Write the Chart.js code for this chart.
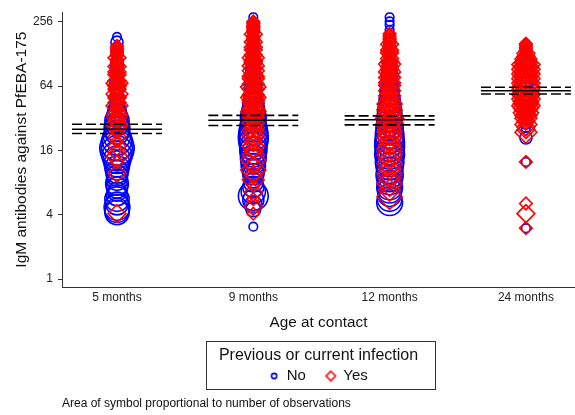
<!DOCTYPE html>
<html>
<head>
<meta charset="utf-8">
<script src="https://cdn.jsdelivr.net/npm/chart.js@4.4.1/dist/chart.umd.min.js"></script>
<style>
  html, body { margin: 0; padding: 0; background: #fff; }
  #wrap { width: 575px; height: 415px; position: relative; }
</style>
</head>
<body>
<div id="wrap"><canvas id="chart"></canvas></div>
<script>
const ageLabels = ['5 months', '9 months', '12 months', '24 months'];
const yTicks = [1, 4, 16, 64, 256];

// IgM titres (one list per age) and how many children had each titre
const noTitres = [
  [185, 165, 150, 135, 120, 108, 98, 88, 80, 72, 66, 60, 55, 50, 46, 42, 39, 36, 33, 30.5, 28, 25.7, 23.7, 21.7, 20, 18.3, 16.8, 15.5, 14.2, 13.1, 12, 11, 10.1, 9.3, 8.5, 7.8, 7.2, 6.6, 6.1, 5.6, 5.1, 4.7, 4.4, 4.2],
  [283, 255, 230, 210, 190, 172, 158, 145, 133, 122, 112, 103, 95, 88, 81, 75, 69, 64, 59, 55, 51, 47, 44, 41, 38, 35, 32.5, 30, 28, 26, 24, 22, 20.5, 19, 17.5, 16, 14.8, 13.6, 12.5, 11.5, 10.5, 9.6, 8.8, 8, 7.3, 6.6, 6, 5.5, 5, 4.5, 3.1],
  [283, 258, 240, 215, 195, 178, 162, 148, 136, 124, 113, 104, 95, 87, 80, 73, 67, 62, 57, 52, 48, 44, 40.5, 37, 34, 31.5, 29, 26.5, 24.5, 22.5, 20.5, 19, 17.5, 16, 14.7, 13.5, 12.4, 11.4, 10.4, 9.5, 8.7, 8, 7.3, 6.7, 6.1, 5.6, 5.2],
  [160, 120, 100, 85, 72, 62, 54, 47, 41, 36, 32, 29, 26, 21, 12.5, 3.0]
];
const noCounts = [
  [1, 2, 1, 2, 1, 2, 2, 2, 2, 2, 2, 3, 2, 3, 3, 3, 4, 5, 6, 8, 7, 9, 8, 10, 12, 14, 16, 14, 12, 10, 9, 8, 7, 6, 6, 7, 6, 5, 6, 8, 7, 9, 8, 8],
  [1, 1, 1, 1, 1, 2, 1, 2, 2, 2, 3, 2, 3, 3, 3, 3, 4, 3, 4, 4, 5, 5, 6, 6, 7, 8, 9, 8, 9, 10, 11, 12, 12, 11, 10, 10, 9, 9, 8, 8, 7, 6, 5, 5, 6, 8, 12, 6, 4, 3, 1],
  [1, 1, 1, 1, 1, 1, 2, 1, 2, 2, 2, 3, 3, 3, 4, 3, 4, 4, 5, 5, 6, 6, 7, 8, 8, 9, 9, 10, 10, 11, 11, 12, 12, 11, 12, 10, 11, 10, 9, 10, 9, 8, 9, 8, 7, 8, 9],
  [1, 1, 2, 2, 3, 3, 3, 2, 2, 2, 2, 2, 1, 2, 1, 1]
];
const yesTitres = [
  [152, 140, 128, 118, 110, 104, 98, 92, 87, 82, 77, 72, 68, 64, 60, 57, 54, 51, 48, 45, 42, 39, 36.5, 34, 31.5, 29.5, 27.5, 25.5, 23.5, 21.5, 19.5, 17.5, 15.5, 14, 12.5, 9.8, 4.1,
   146, 134, 123, 114, 107, 101, 95, 89.5, 84.5, 79.5, 74.5, 70, 66, 62, 58.5, 55.5, 52.5, 49.5, 46.5, 43.5, 40.5, 38, 35, 32.5],
  [258, 245, 232, 220, 208, 196, 185, 175, 166, 157, 148, 140, 132, 125, 118, 111, 105, 99, 94, 89, 84, 79, 75, 71, 67, 63, 60, 56, 53, 50, 47, 44.5, 42, 39.5, 37, 35, 33, 31, 29, 27, 25, 23.5, 22, 20.5, 19, 17.5, 16, 14.5, 13, 11.5, 10.5, 9.5, 8.5, 7.5, 6.5, 5.6, 4.8, 4.1,
   251, 238, 226, 214, 202, 190, 180, 170, 161, 152, 144, 136, 128, 121, 114, 108, 102, 96.5, 91.5, 86.5, 81.5, 77, 73, 69, 65, 61.5, 58, 54.5, 51.5, 48.5, 45.7, 43.2, 40.7, 38.2, 36, 34, 32, 30, 28],
  [198, 180, 168, 158, 148, 139, 131, 123, 116, 109, 103, 97, 92, 87, 82, 77, 73, 69, 65, 61, 58, 55, 52, 49, 46, 43.5, 41, 38.5, 36, 34, 32, 30, 28, 26, 24, 22.5, 21, 19.5, 18, 16.5, 14.8, 13.4, 12, 10.8, 9.7, 8.7, 7.8, 6.8, 5.9,
   189, 174, 163, 153, 143, 135, 127, 119.5, 112.5, 106, 100, 94.5, 89.5, 84.5, 79.5, 75, 71, 67, 63, 59.5, 56.5, 53.5, 50.5, 47.5, 44.7, 42.2, 39.7, 37.2, 35, 33, 31, 29, 27],
  [160, 148, 138, 130, 122, 115, 108, 102, 97, 92, 87, 83, 79, 75, 71, 68, 65, 62, 59, 56, 53.5, 51, 48.5, 46, 44, 42, 40, 38, 36, 34, 32, 30, 28, 26.5, 25, 23.7, 12.5, 5.1, 4.1, 3.0,
   154, 143, 134, 126, 118.5, 111.5, 105, 99.5, 94.5, 89.5, 85, 81, 77, 73, 69.5, 66.5, 63.5, 60.5, 57.5, 54.7, 52.2, 49.7, 47.2, 45, 43, 41, 39, 37, 35, 33, 31, 29]
];
const yesCounts = [
  [1, 1, 1, 2, 1, 1, 2, 1, 2, 2, 1, 2, 3, 2, 2, 1, 3, 2, 1, 2, 3, 1, 2, 3, 2, 2, 3, 2, 1, 2, 1, 2, 2, 3, 1, 2, 2,
   1, 1, 1, 1, 1, 1, 1, 1, 1, 1, 1, 1, 2, 1, 1, 1, 1, 2, 1, 1, 1, 1, 1, 1],
  [1, 1, 1, 1, 1, 2, 1, 1, 2, 1, 2, 2, 1, 2, 3, 2, 2, 3, 2, 3, 2, 3, 3, 2, 3, 4, 3, 2, 3, 4, 3, 3, 2, 3, 4, 3, 3, 2, 3, 2, 3, 2, 3, 2, 2, 3, 2, 3, 4, 2, 4, 2, 3, 1, 2, 1, 2, 1,
   1, 1, 1, 1, 1, 1, 1, 1, 1, 1, 1, 1, 1, 1, 1, 2, 1, 1, 1, 1, 2, 1, 1, 1, 1, 1, 2, 1, 1, 1, 1, 1, 1, 1, 1, 1, 1, 1, 1],
  [1, 1, 1, 2, 1, 2, 2, 1, 2, 2, 3, 2, 2, 3, 2, 3, 2, 3, 3, 2, 3, 2, 3, 2, 3, 4, 3, 4, 3, 4, 5, 4, 5, 3, 4, 3, 4, 3, 3, 4, 4, 3, 4, 3, 4, 3, 4, 3, 4,
   1, 1, 1, 1, 1, 1, 1, 1, 1, 1, 1, 1, 1, 1, 1, 1, 1, 2, 1, 1, 1, 1, 1, 1, 1, 2, 1, 1, 1, 1, 1, 1, 1],
  [1, 1, 1, 2, 2, 3, 3, 5, 4, 5, 4, 5, 4, 5, 4, 5, 4, 5, 5, 4, 5, 4, 5, 4, 4, 5, 4, 3, 4, 3, 3, 2, 3, 2, 2, 3, 1, 1, 2, 1,
   1, 1, 1, 1, 2, 2, 3, 2, 3, 2, 3, 2, 3, 2, 3, 2, 3, 2, 3, 2, 3, 2, 3, 2, 3, 2, 2, 2, 2, 2, 1, 1]
];

// geometric mean titre per age with its 95% confidence interval
const gmt = [25.3, 30.7, 31.0, 58.0];
const gmtLow = [23.1, 27.4, 27.8, 54.0];
const gmtHigh = [28.2, 34.1, 33.7, 62.4];

const FONT = "'Liberation Sans', Arial, sans-serif";
const BLUE = 'rgb(0, 0, 255)';
const RED = 'rgb(255, 0, 0)';
const CIRCLE_R = 4.3;   // radius of a circle standing for one child
const DIAMOND_R = 6.3;  // half diagonal of a diamond for one child
const HALF_SPAN = 0.33; // half length of the mean / CI bars, in category units

function toPoints(titres, counts) {
  const pts = [];
  titres.forEach((list, i) => {
    list.forEach((v, j) => pts.push({ x: i + 1, y: v, n: counts[i][j] }));
  });
  return pts;
}

function bars(values) {
  const pts = [];
  values.forEach((v, i) => {
    pts.push({ x: i + 1 - HALF_SPAN, y: v }, { x: i + 1 + HALF_SPAN, y: v }, { x: i + 1.5, y: null });
  });
  return pts;
}

function legendIcon(style, color) {
  const c = document.createElement('canvas');
  const s = style === 'circle' ? 8 : 13;
  c.width = s; c.height = s;
  const g = c.getContext('2d');
  g.strokeStyle = color;
  g.lineWidth = 1.6;
  g.beginPath();
  if (style === 'circle') {
    g.arc(s / 2, s / 2, 2.6, 0, Math.PI * 2);
  } else {
    const h = 4.8;
    g.moveTo(s / 2, s / 2 - h); g.lineTo(s / 2 + h, s / 2);
    g.lineTo(s / 2, s / 2 + h); g.lineTo(s / 2 - h, s / 2);
    g.closePath();
  }
  g.stroke();
  return c;
}

// border around the legend block
const legendFrame = {
  id: 'legendFrame',
  afterDraw(chart) {
    const lg = chart.legend;
    const ctx = chart.ctx;
    ctx.save();
    ctx.font = '16px ' + FONT;
    const w = Math.round(ctx.measureText('Previous or current infection').width + 30);
    const cx = (lg.left + lg.right) / 2 + 2;
    ctx.strokeStyle = '#333';
    ctx.lineWidth = 1;
    ctx.strokeRect(Math.round(cx - w / 2) + 0.5, Math.round(lg.top) + 0.5, w, 48);
    ctx.restore();
  }
};

const ctx = document.getElementById('chart').getContext('2d');
new Chart(ctx, {
  type: 'scatter',
  data: {
    datasets: [
      {
        label: 'No',
        data: toPoints(noTitres, noCounts),
        pointStyle: 'circle',
        pointRadius: c => CIRCLE_R * Math.sqrt(c.raw.n),
        pointBorderColor: BLUE,
        pointBackgroundColor: 'rgba(0,0,0,0)',
        pointBorderWidth: 1.6,
        order: 2
      },
      {
        label: 'Yes',
        data: toPoints(yesTitres, yesCounts),
        pointStyle: 'rectRot',
        pointRadius: c => DIAMOND_R * Math.sqrt(c.raw.n),
        pointBorderColor: RED,
        pointBackgroundColor: 'rgba(0,0,0,0)',
        pointBorderWidth: 1.6,
        order: 1
      },
      {
        type: 'line', label: 'GMT', data: bars(gmt),
        borderColor: '#000', borderWidth: 1.6, pointRadius: 0, order: 0
      },
      {
        type: 'line', label: 'lower', data: bars(gmtLow),
        borderColor: '#000', borderWidth: 1.6, borderDash: [10, 4], pointRadius: 0, order: 0
      },
      {
        type: 'line', label: 'upper', data: bars(gmtHigh),
        borderColor: '#000', borderWidth: 1.6, borderDash: [10, 4], pointRadius: 0, order: 0
      }
    ]
  },
  options: {
    responsive: true,
    maintainAspectRatio: false,
    animation: false,
    events: [],
    layout: { autoPadding: false, padding: { top: 8, right: 0, bottom: 4.5, left: 0 } },
    scales: {
      x: {
        type: 'linear',
        min: 0.5965,
        max: 4.36,
        afterBuildTicks: scale => { scale.ticks = ageLabels.map((_, i) => ({ value: i + 1 })); },
        afterFit: scale => { scale.height = 53.7; },
        ticks: {
          padding: 3.5,
          color: '#222',
          font: { family: FONT, size: 12 },
          callback: v => ageLabels[v - 1]
        },
        grid: { display: false, drawTicks: false },
        border: { display: true, color: '#333', width: 1 },
        title: {
          display: true, text: 'Age at contact', color: '#111',
          font: { family: FONT, size: 15.3 }, padding: { top: 0, bottom: 8.5 }
        }
      },
      y: {
        type: 'logarithmic',
        min: 0.844,
        max: 315,
        afterBuildTicks: scale => { scale.ticks = yTicks.map(v => ({ value: v })); },
        afterFit: scale => { scale.width = 62; },
        ticks: {
          padding: 5,
          color: '#222',
          font: { family: FONT, size: 12 },
          callback: v => String(v)
        },
        grid: { drawOnChartArea: false, drawTicks: true, tickLength: 4, color: '#333' },
        border: { display: true, color: '#333', width: 1 },
        title: {
          display: true, text: 'IgM antibodies against PfEBA-175', color: '#111',
          font: { family: FONT, size: 15.5 }, padding: { top: 12.5, bottom: 0 }
        }
      }
    },
    plugins: {
      tooltip: { enabled: false },
      legend: {
        position: 'bottom',
        fullSize: false,
        align: 'center',
        title: {
          display: true, text: 'Previous or current infection', color: '#111',
          font: { family: FONT, size: 16 }, padding: { top: 7.3, bottom: -18.7 }
        },
        labels: {
          usePointStyle: true,
          boxWidth: 10,
          padding: 20,
          color: '#111',
          font: { family: FONT, size: 15 },
          generateLabels: () => [
            { text: 'No', pointStyle: legendIcon('circle', BLUE), strokeStyle: BLUE, fillStyle: 'rgba(0,0,0,0)', lineWidth: 1.5, hidden: false, datasetIndex: 0 },
            { text: 'Yes', pointStyle: legendIcon('diamond', RED), strokeStyle: RED, fillStyle: 'rgba(0,0,0,0)', lineWidth: 1.5, hidden: false, datasetIndex: 1 }
          ]
        }
      },
      title: {
        display: true,
        position: 'bottom',
        align: 'start',
        fullSize: false,
        text: 'Area of symbol proportional to number of observations',
        color: '#111',
        font: { family: FONT, size: 12, weight: 'normal' },
        padding: { top: 2.6, bottom: 0 }
      }
    }
  },
  plugins: [legendFrame]
});
</script>
</body>
</html>
